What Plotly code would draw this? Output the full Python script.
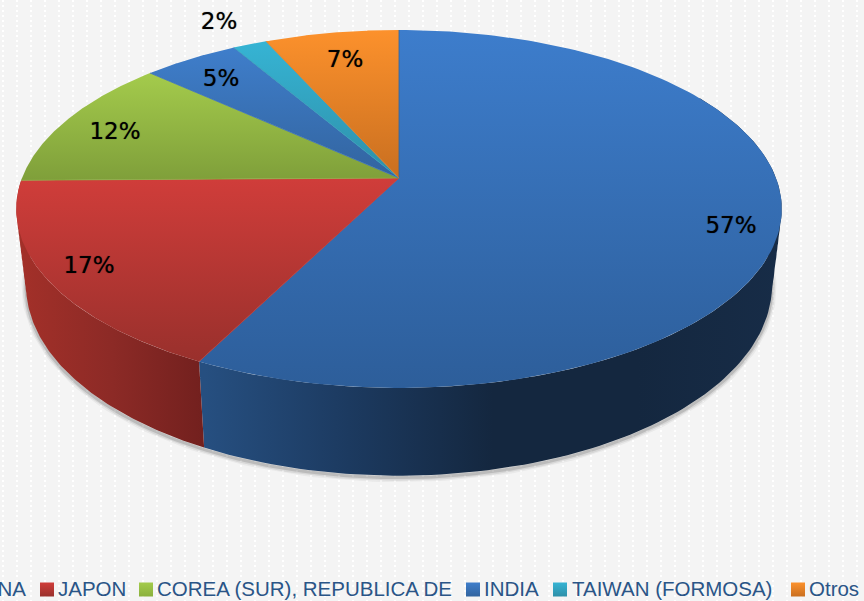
import math
import numpy as np
import plotly.graph_objects as go

# ---- data ----
categories = ["CHINA", "JAPON", "COREA (SUR), REPUBLICA DE", "INDIA", "TAIWAN (FORMOSA)", "Otros"]
values = [57.4, 17.4, 12.0, 4.8, 1.7, 6.7]
percent_labels = ["57%", "17%", "12%", "5%", "2%", "7%"]
top_colors = [("#3d7dcc", "#2d5e9a"), ("#d03d3a", "#99302c"), ("#a4cb4c", "#7f9f3a"),
              ("#3f7ecb", "#32649f"), ("#36b4d4", "#2e8fa8"), ("#fc912c", "#c96f20")]
spoke_colors = ["#30659f", "#b83633", "#8aae42", "#3a70b4", "#3299b8", "#d87a25"]
side_colors = {0: ["#264f80", "#1c3a60", "#14273f", "#14273f", "#172c47"],
               1: ["#a33029", "#8c2a26", "#72201e"]}
side_ranges = {0: (205, 781), 1: (20, 205)}
legend_dark = ["#2d5e9a", "#99302c", "#8ab03c", "#32649f", "#2e8fa8", "#c96f20"]
legend_colors = ["#3d7dcc", "#d03d3a", "#a4cb4c", "#3f7ecb", "#36b4d4", "#fc912c"]
label_x = [731, 89, 115, 221, 219, 345]
label_y = [227, 267, 133, 80, 23, 61]
legend_marker_x = [-40, 47, 146, 473, 560, 798]
legend_text_x = [26, 58, 157, 484, 572, 809]

W, H = 864, 601
CX, K = 399, 0.173
TOP = dict(A=377, B=173.6, Y=178)
BOT = dict(A=367.4, B=185, Y=252)


def project(theta, ring):
    u, v = np.sin(theta), np.cos(theta)
    d = 1 + K * v
    return CX + ring["A"] * u / d, ring["Y"] - ring["B"] * v / d


fracs = np.cumsum([0] + values) / sum(values) * 2 * math.pi
fig = go.Figure()

# background dotted stripes
bx, by = [], []
for x in np.arange(3, W, 14.0):
    bx += [x, x, None]
    by += [0, H, None]
fig.add_trace(go.Scatter(x=bx, y=by, mode="lines", hoverinfo="skip", showlegend=False,
                         line=dict(color="#ffffff", width=2, dash="2px 3px")))

# soft shadow below the rim
t = np.linspace(math.radians(75), math.radians(285), 220)
sx, sy = project(t, BOT)
for w, a in [(9, 0.06), (6, 0.1), (3, 0.18)]:
    fig.add_trace(go.Scatter(x=sx, y=sy + 2, mode="lines", hoverinfo="skip", showlegend=False,
                             line=dict(color=f"rgba(60,60,60,{a})", width=w)))

# rim: overlapping strips from the top ring to rings further down
for i, stops in side_colors.items():
    t = np.linspace(math.radians(60) if i == 0 else fracs[i], fracs[i + 1], 120)
    x0, y0 = project(t, TOP)
    x1, y1 = project(t, BOT)
    px, py = [], []
    for lam in np.linspace(0.1, 1, 12):
        mx, my = x0 + (x1 - x0) * lam, y0 + (y1 - y0) * lam
        px += list(np.r_[x0, mx[::-1], x0[0]]) + [None]
        py += list(np.r_[y0, my[::-1], y0[0]]) + [None]
    scale = [[j / (len(stops) - 1), c] for j, c in enumerate(stops)]
    rng = side_ranges[i]
    fig.add_trace(go.Scatter(x=px, y=py, mode="lines", fill="toself", hoverinfo="skip",
                             showlegend=False, line=dict(width=0),
                             fillgradient=dict(type="horizontal", colorscale=scale,
                                               start=rng[0], stop=rng[1])))

# top surface
for i, (c0, c1) in enumerate(top_colors):
    t = np.linspace(fracs[i], fracs[i + 1], 160)
    x0, y0 = project(t, TOP)
    xs = np.r_[CX, x0, CX]
    ys = np.r_[TOP["Y"], y0, TOP["Y"]]
    fig.add_trace(go.Scatter(x=xs, y=ys, mode="lines", fill="toself", name=categories[i],
                             showlegend=False, line=dict(width=0),
                             text=f"{categories[i]}: {percent_labels[i]}", hoverinfo="text",
                             fillgradient=dict(type="vertical", colorscale=[[0, c0], [1, c1]],
                                               start=float(ys.min()), stop=float(ys.max()))))

# hairlines hiding the seams between neighbouring slices
for i in range(len(values)):
    ex, ey = project(np.array([fracs[i]]), TOP)
    fig.add_trace(go.Scatter(x=[CX, ex[0]], y=[TOP["Y"], ey[0]], mode="lines", hoverinfo="skip",
                             showlegend=False, line=dict(width=0.8, color=spoke_colors[i])))

# percentage labels
fig.add_trace(go.Scatter(x=label_x, y=label_y, mode="text", text=percent_labels, hoverinfo="skip",
                         showlegend=False, textposition="middle center",
                         textfont=dict(family="DejaVu Sans", size=23, color="#000000",
                                       shadow="0 0 1px rgba(0,0,0,0.6)")))

# legend row
fig.add_trace(go.Scatter(x=legend_marker_x, y=[589.5] * 6, mode="markers", hoverinfo="skip",
                         showlegend=False,
                         marker=dict(symbol="square", size=14, color=legend_colors,
                                     gradient=dict(type="vertical", color=legend_dark))))
for i, name in enumerate(categories):
    fig.add_trace(go.Scatter(x=[legend_text_x[i]], y=[591], mode="text", text=[name],
                             textposition="middle right" if i else "middle left",
                             hoverinfo="skip", showlegend=False,
                             textfont=dict(family="Liberation Sans", size=20.5, color="#2a5587")))

fig.update_xaxes(range=[0, W], visible=False, fixedrange=True)
fig.update_yaxes(range=[H, 0], visible=False, fixedrange=True)
fig.update_layout(width=W, height=H, margin=dict(l=0, r=0, t=0, b=0),
                  paper_bgcolor="#f4f4f4", plot_bgcolor="#f4f4f4", showlegend=False)
fig.write_html("out.html", config={"displayModeBar": False},
               post_script="document.body.style.margin='0';document.body.style.overflow='hidden';")
